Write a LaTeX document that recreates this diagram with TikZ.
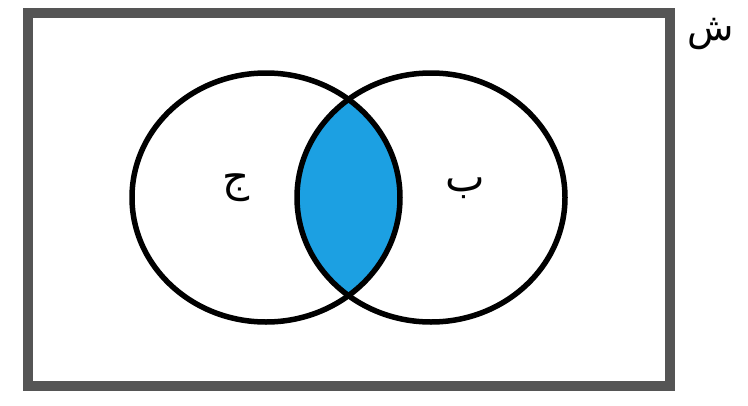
\documentclass[tikz,border=0pt]{standalone}
\usepackage{fontspec}
\newfontfamily\arabicfont[Script=Arabic]{DejaVu Sans}
\TeXXeTstate=1
\definecolor{lensblue}{RGB}{28,160,226}
\definecolor{framegray}{RGB}{85,85,85}
\begin{document}
\begin{tikzpicture}[x=1pt,y=-1pt,
  setring/.style={line width=5.5pt,black},
  setlabel/.style={font=\arabicfont\fontsize{42}{42}\selectfont,inner sep=0pt}]
\useasboundingbox (0,0) rectangle (748,405);
\fill[white] (0,0) rectangle (748,405);
\draw[framegray,line width=10pt] (27.5,12.5) rectangle (670,386);
\coordinate (A) at (266,197.5);
\coordinate (B) at (431,197.5);
\begin{scope}
  \clip (A) ellipse [x radius=134,y radius=124.5];
  \fill[lensblue] (B) ellipse [x radius=134,y radius=124.5];
\end{scope}
\draw[setring] (A) ellipse [x radius=134,y radius=124.5];
\draw[setring] (B) ellipse [x radius=134,y radius=124.5];
\node[setlabel] (lj) at (236,188) {\beginR ج\endR};
\node[setlabel] (lb) at (465,188) {\beginR ب\endR};
\node[setlabel,font=\arabicfont\fontsize{38}{38}\selectfont] (ls) at (711,34) {\beginR ش\endR};
\end{tikzpicture}
\end{document}
